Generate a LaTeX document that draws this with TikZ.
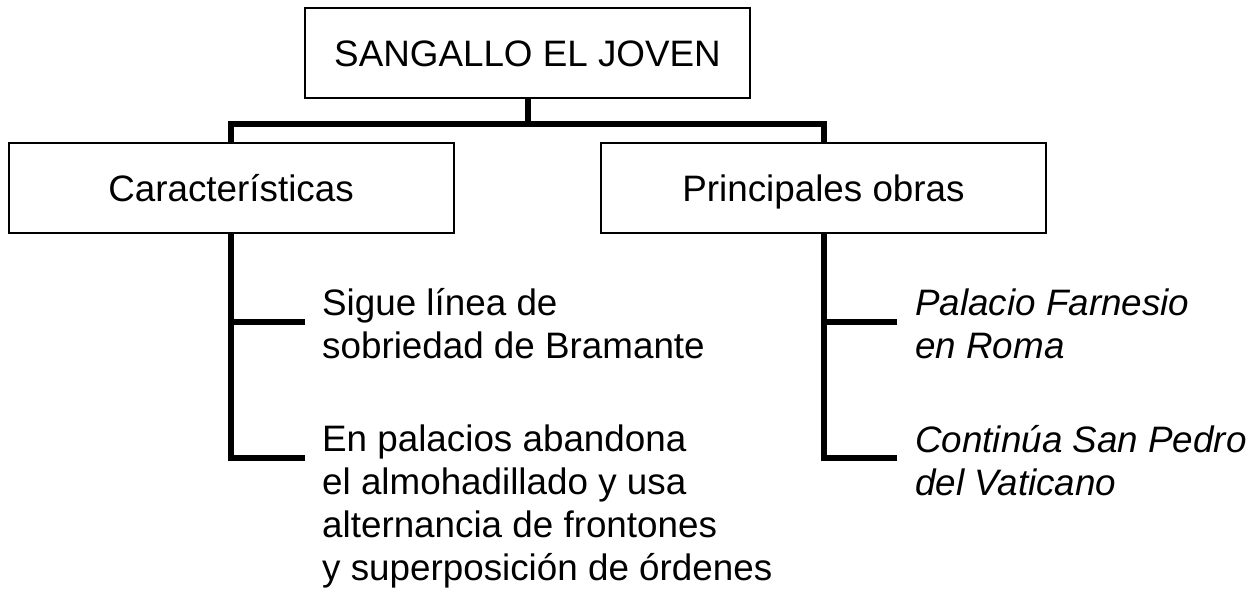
\documentclass[tikz,border=0pt]{standalone}
\usepackage{fontspec}
\setmainfont{Liberation Sans}
\begin{document}
\begin{tikzpicture}[x=1pt,y=-1pt,
  box/.style={draw=black, line width=2pt, minimum width=445pt, minimum height=90pt,
    inner sep=0pt, text height=26.4pt, text depth=0pt,
    font={\fontsize{36.8}{43}\selectfont}},
  conn/.style={line width=6pt, line join=miter},
  item/.style={anchor=north west, inner sep=0pt, align=left,
    font={\fontsize{36.8}{43}\selectfont}}]
\useasboundingbox (0,0) rectangle (1256,592);
\node[box] (top) at (527.5,53) {SANGALLO EL JOVEN};
\node[box] (L) at (231,188) {Características};
\node[box] (R) at (823.5,188) {Principales obras};
\coordinate (bar) at (0,124);
\coordinate (lb1) at (305,322);
\coordinate (lb2) at (305,458);
\coordinate (rb1) at (897,322);
\coordinate (rb2) at (897,458);
\draw[conn] (top.south) -- (top.south |- bar);
\draw[conn] (L.north) -- (L.north |- bar) -- (R.north |- bar) -- (R.north);
\draw[conn] (L.south) -- (L.south |- lb2) -- (lb2);
\draw[conn] (L.south |- lb1) -- (lb1);
\draw[conn] (R.south) -- (R.south |- rb2) -- (rb2);
\draw[conn] (R.south |- rb1) -- (rb1);
\node[item] (t1) at (322,288.6) {Sigue línea de\\sobriedad de Bramante};
\node[item] (t2) at (322,424.6) {En palacios abandona\\el almohadillado y usa\\alternancia de frontones\\y superposición de órdenes};
\node[item,font={\fontsize{36.8}{43}\selectfont\itshape}] (t3) at (915,288.6) {Palacio Farnesio\\en Roma};
\node[item,font={\fontsize{36.8}{43}\selectfont\itshape}] (t4) at (915,425.6) {Continúa San Pedro\\del Vaticano};
\end{tikzpicture}
\end{document}
